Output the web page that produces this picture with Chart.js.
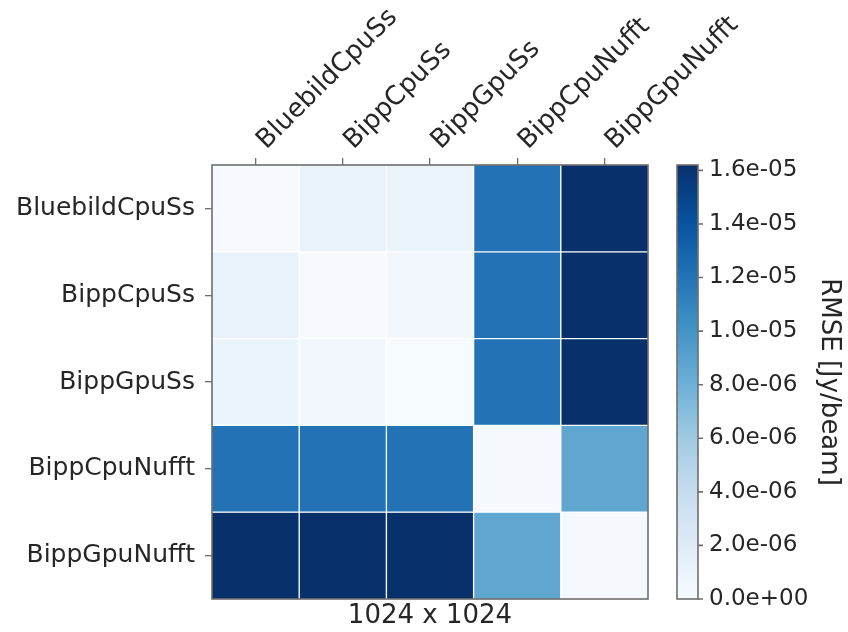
<!DOCTYPE html>
<html lang="en">
<head>
    <title>RMSE 1024 x 1024</title>
    <meta charset="UTF-8">
    <script src="https://cdn.jsdelivr.net/npm/chart.js"></script>
    <style>
        body {
            margin: 0;
            padding: 0;
            background: white;
            font-family: "DejaVu Sans", sans-serif;
        }
        #heat {
            display: block;
        }
    </style>
</head>
<body>
    <canvas id="heat" width="848" height="632"></canvas>

    <script>
        // names of the implementations (rows and columns are the same)
        var rowNames = ["BluebildCpuSs", "BippCpuSs", "BippGpuSs", "BippCpuNufft", "BippGpuNufft"];
        var colNames = ["BluebildCpuSs", "BippCpuSs", "BippGpuSs", "BippCpuNufft", "BippGpuNufft"];

        // RMSE per row [Jy/beam]
        var rmseBluebildCpuSs = [0.1e-6, 1.1e-6, 1.0e-6, 1.21e-5, 1.62e-5];
        var rmseBippCpuSs     = [1.1e-6, 0.1e-6, 0.5e-6, 1.21e-5, 1.62e-5];
        var rmseBippGpuSs     = [1.0e-6, 0.5e-6, 0.05e-6, 1.21e-5, 1.62e-5];
        var rmseBippCpuNufft  = [1.21e-5, 1.21e-5, 1.21e-5, 0.2e-6, 8.7e-6];
        var rmseBippGpuNufft  = [1.62e-5, 1.62e-5, 1.62e-5, 8.7e-6, 0.2e-6];
        var rmseRows = [rmseBluebildCpuSs, rmseBippCpuSs, rmseBippGpuSs, rmseBippCpuNufft, rmseBippGpuNufft];

        // colorbar
        var cbTicks = [0, 2e-6, 4e-6, 6e-6, 8e-6, 1e-5, 1.2e-5, 1.4e-5, 1.6e-5];
        var cbMin = 0;
        var cbMax = 1.62e-5;
        var cbTitle = "RMSE [Jy/beam]";
        var sizeTitle = "1024 x 1024";

        // matplotlib "Blues"
        var blues = ["#f7fbff", "#deebf7", "#c6dbef", "#9ecae1", "#6baed6", "#4292c6", "#2171b5", "#08519c", "#08306b"];

        function hexToRgb(h) {
            return [parseInt(h.substr(1, 2), 16), parseInt(h.substr(3, 2), 16), parseInt(h.substr(5, 2), 16)];
        }

        function bluesColor(t) {
            t = Math.max(0, Math.min(1, t));
            var pos = t * (blues.length - 1);
            var i = Math.min(Math.floor(pos), blues.length - 2);
            var f = pos - i;
            var a = hexToRgb(blues[i]), b = hexToRgb(blues[i + 1]);
            var c = a.map(function(v, k) { return Math.round(v + (b[k] - v) * f); });
            return "rgb(" + c[0] + "," + c[1] + "," + c[2] + ")";
        }

        function sci(v) {
            if (v === 0) return "0.0e+00";
            var exp = Math.floor(Math.log10(Math.abs(v)) + 1e-9);
            var man = v / Math.pow(10, exp);
            var sign = exp < 0 ? "-" : "+";
            var e = Math.abs(exp);
            return man.toFixed(1) + "e" + sign + (e < 10 ? "0" + e : e);
        }

        var frameColor = "#6e6e6e";
        var textColor = "#262626";

        // colorbar + frame drawn with the scales' own pixels
        var colorbarPlugin = {
            id: "colorbar",
            afterDatasetsDraw: function(chart) {
                var ctx = chart.ctx, a = chart.chartArea;
                ctx.save();
                ctx.strokeStyle = frameColor;
                ctx.lineWidth = 1.6;
                ctx.strokeRect(a.left, a.top, a.right - a.left, a.bottom - a.top);
                ctx.restore();
            },
            afterDraw: function(chart) {
                var ctx = chart.ctx, s = chart.scales.cb;
                var x0 = s.left + 29, w = 21;
                var yTop = s.getPixelForValue(cbMax), yBot = s.getPixelForValue(cbMin);
                var grad = ctx.createLinearGradient(0, yBot, 0, yTop);
                blues.forEach(function(c, i) { grad.addColorStop(i / (blues.length - 1), c); });
                ctx.save();
                ctx.fillStyle = grad;
                ctx.fillRect(x0, yTop, w, yBot - yTop);
                ctx.strokeStyle = frameColor;
                ctx.lineWidth = 1.6;
                ctx.strokeRect(x0, yTop, w, yBot - yTop);
                ctx.beginPath();
                s.ticks.forEach(function(t) {
                    var y = s.getPixelForValue(t.value);
                    ctx.moveTo(x0 + w, y);
                    ctx.lineTo(x0 + w + 5, y);
                });
                ctx.stroke();
                ctx.restore();
            }
        };

        var datasets = rmseRows.map(function(row, r) {
            return {
                label: rowNames[r],
                data: colNames.map(function() { return 1; }),
                backgroundColor: row.map(function(v) { return bluesColor((v - cbMin) / (cbMax - cbMin)); }),
                borderColor: "#ffffff",
                borderWidth: function(ctx) {
                    var c = ctx.dataIndex;
                    return {
                        left: c > 0 ? 1 : 0,
                        right: c < colNames.length - 1 ? 1 : 0,
                        top: r > 0 ? 1 : 0,
                        bottom: r < rowNames.length - 1 ? 1 : 0
                    };
                },
                borderSkipped: false,
                barPercentage: 1,
                categoryPercentage: 1,
                xAxisID: "x",
                yAxisID: "y"
            };
        });

        var ctx = document.getElementById("heat").getContext("2d");
        var heat = new Chart(ctx, {
            type: "bar",
            data: {
                labels: colNames,
                datasets: datasets
            },
            plugins: [colorbarPlugin],
            options: {
                responsive: false,
                animation: false,
                devicePixelRatio: 1,
                layout: { padding: 0 },
                plugins: {
                    legend: { display: false },
                    tooltip: { enabled: false }
                },
                scales: {
                    x: {
                        type: "category",
                        position: "top",
                        stacked: true,
                        offset: true,
                        grid: {
                            offset: false,
                            drawOnChartArea: false,
                            tickLength: 7,
                            tickColor: frameColor,
                            lineWidth: 1.3
                        },
                        border: { display: false },
                        ticks: {
                            minRotation: 45,
                            maxRotation: 45,
                            autoSkip: false,
                            padding: 2,
                            labelOffset: 28,
                            color: textColor,
                            font: { family: "DejaVu Sans", size: 26 }
                        },
                        afterFit: function(s) { s.height = 165; }
                    },
                    y: {
                        type: "linear",
                        min: 0,
                        max: rowNames.length,
                        reverse: true,
                        stacked: true,
                        afterBuildTicks: function(s) {
                            s.ticks = rowNames.map(function(n, i) { return { value: i + 0.5 }; });
                        },
                        grid: {
                            drawOnChartArea: false,
                            tickLength: 7,
                            tickColor: frameColor,
                            lineWidth: 1.3
                        },
                        border: { display: false },
                        ticks: {
                            autoSkip: false,
                            padding: 10,
                            color: textColor,
                            font: { family: "DejaVu Sans", size: 25 },
                            callback: function(v, i) { return rowNames[i]; }
                        },
                        afterFit: function(s) { s.width = 212; }
                    },
                    cb: {
                        type: "linear",
                        position: "right",
                        min: cbMin,
                        max: cbMax,
                        afterBuildTicks: function(s) {
                            s.ticks = cbTicks.map(function(v) { return { value: v }; });
                        },
                        // invisible tick marks only reserve room for the bar drawn by the plugin
                        grid: {
                            drawOnChartArea: false,
                            drawTicks: true,
                            tickLength: 56,
                            tickColor: "rgba(0,0,0,0)"
                        },
                        border: { display: false },
                        ticks: {
                            autoSkip: false,
                            padding: 5,
                            color: textColor,
                            font: { family: "DejaVu Sans", size: 23 },
                            callback: function(v) { return sci(v); }
                        },
                        title: {
                            display: true,
                            text: cbTitle,
                            color: textColor,
                            font: { family: "DejaVu Sans", size: 26 },
                            padding: { top: 4, bottom: 0 }
                        },
                        afterFit: function(s) { s.width = 200; }
                    },
                    x2: {
                        type: "linear",
                        position: "bottom",
                        min: 0,
                        max: 1,
                        grid: { display: false },
                        border: { display: false },
                        ticks: { display: false },
                        title: {
                            display: true,
                            text: sizeTitle,
                            color: textColor,
                            font: { family: "DejaVu Sans", size: 26 },
                            padding: { top: 0, bottom: 0 }
                        },
                        afterFit: function(s) { s.height = 33; }
                    }
                }
            }
        });
    </script>
</body>
</html>
